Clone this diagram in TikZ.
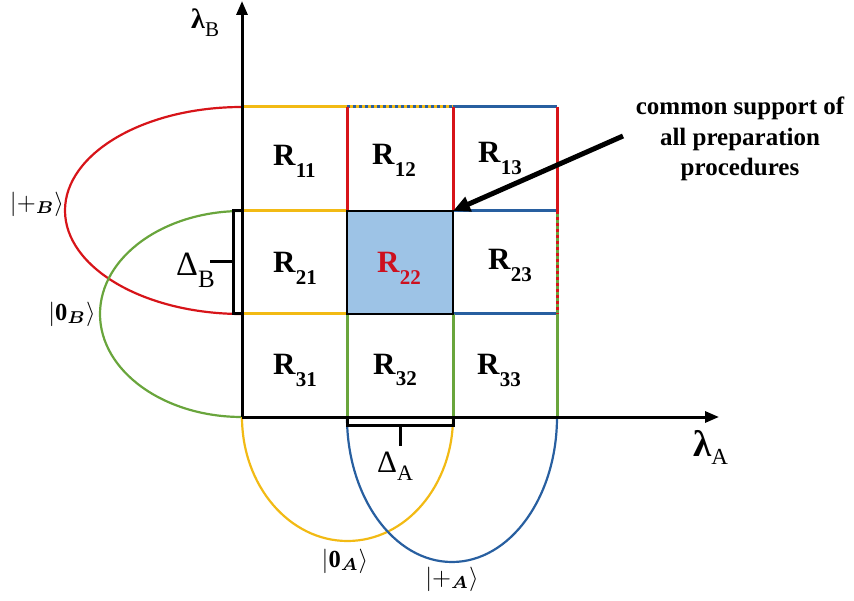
\documentclass[tikz,border=0pt]{standalone}
\usepackage{amsmath,bm}
\usepackage{fontspec}
\setmainfont{Liberation Serif}
\usetikzlibrary{arrows.meta}
\definecolor{yel}{RGB}{242,186,20}
\definecolor{redl}{RGB}{215,20,25}
\definecolor{blu}{RGB}{40,95,160}
\definecolor{grn}{RGB}{105,165,60}
\definecolor{cellfill}{RGB}{157,195,230}
\definecolor{redtxt}{RGB}{205,16,30}
\newcommand{\Rlab}[2][black]{\textcolor{#1}{\textbf{R}\raisebox{-12pt}{\fontsize{21}{21}\selectfont\textbf{#2}}}}
\begin{document}
\begin{tikzpicture}[x=1pt,y=-1pt,
  gl/.style={line width=3pt},
  ax/.style={line width=3pt,-{Triangle[length=14pt,width=11pt]}},
  ell/.style={line width=2.2pt},
  brk/.style={line width=3pt},
  rlab/.style={anchor=base west,inner sep=0pt,font=\fontsize{31}{31}\selectfont},
  ket/.style={inner sep=0pt,scale=2.45}]
\useasboundingbox (0,0) rectangle (854,601);
% grid coordinates
\coordinate (a0) at (242,107); \coordinate (b0) at (347,107); \coordinate (c0) at (453,107); \coordinate (d0) at (557,107);
\coordinate (a1) at (242,211); \coordinate (b1) at (347,211); \coordinate (c1) at (453,211); \coordinate (d1) at (557,211);
\coordinate (a2) at (242,314); \coordinate (b2) at (347,314); \coordinate (c2) at (453,314); \coordinate (d2) at (557,314);
\coordinate (a3) at (242,417); \coordinate (b3) at (347,417); \coordinate (c3) at (453,417); \coordinate (d3) at (557,417);
% R22 fill
\fill[cellfill] (b1) rectangle (c2);
% horizontal coloured lines
\draw[gl,yel] (a0) -- (b0);
\draw[gl,yel] (b0) -- (c0);
\draw[gl,blu,dash pattern=on 3pt off 3pt] (b0) -- (c0);
\draw[gl,blu] (c0) -- (d0);
\draw[gl,yel] (a1) -- (b1);
\draw[gl,blu] (c1) -- (d1);
\draw[gl,yel] (a2) -- (b2);
\draw[gl,blu] (c2) -- (d2);
% vertical coloured lines
\draw[gl,redl] (b0) -- (b1);
\draw[gl,redl] (c0) -- (c1);
\draw[gl,redl] (d0) -- (d1);
\draw[gl,grn] (d1) -- (d2);
\draw[gl,redl,dash pattern=on 3pt off 3pt] (d1) -- (d2);
\draw[gl,grn] (b2) -- (b3);
\draw[gl,grn] (c2) -- (c3);
\draw[gl,grn] (d2) -- (d3);
% R22 border
\draw[line width=2pt] (b1) rectangle (c2);
% ellipses
\draw[ell,redl] (a0) arc[start angle=90,end angle=270,x radius=177pt,y radius=103.5pt];
\draw[ell,grn] (a1) arc[start angle=90,end angle=270,x radius=142pt,y radius=103pt];
\draw[ell,yel] (a3) arc[start angle=180,end angle=360,x radius=105.5pt,y radius=124pt];
\draw[ell,blu] (b3) arc[start angle=180,end angle=360,x radius=105pt,y radius=145pt];
% axes
\coordinate (ytip) at (242,1);
\coordinate (xtip) at (719,417);
\draw[ax] (a3) -- (ytip);
\draw[ax] (a3) -- (xtip);
% brackets
\draw[brk] (a1) -- (233,211) -- (233,314) -- (a2);
\draw[brk] (233,262) -- (210,262);
\draw[brk] (b3) -- (347,425) -- (453,425) -- (c3);
\draw[brk] (400,425) -- (400,446);
% axis labels
\node[anchor=base west,inner sep=0pt] (lamB) at (191,29) {\fontsize{28}{28}\selectfont\textbf{λ}\raisebox{-8pt}{\fontsize{21}{21}\selectfont B}};
\node[anchor=base west,inner sep=0pt] (lamA) at (693,456) {\fontsize{37}{37}\selectfont\textbf{λ}\raisebox{-9pt}{\fontsize{23}{23}\selectfont A}};
\node[anchor=base west,inner sep=0pt] (delB) at (176,276) {\fontsize{34}{34}\selectfont Δ\raisebox{-12pt}{\fontsize{25}{25}\selectfont B}};
\node[anchor=base west,inner sep=0pt] (delA) at (377,472) {\fontsize{31}{31}\selectfont Δ\raisebox{-8pt}{\fontsize{22}{22}\selectfont A}};
% kets
\node[ket] (kpB) at (37,204) {$|{+}_{\bm{B}}\rangle$};
\node[ket] (k0B) at (72,314) {$|\mathbf{0}_{\bm{B}}\rangle$};
\node[ket] (k0A) at (345,561) {$|\mathbf{0}_{\bm{A}}\rangle$};
\node[ket] (kpA) at (452,579) {$|{+}_{\bm{A}}\rangle$};
% cell labels
\node[rlab] (R11) at (273,166) {\Rlab{11}};
\node[rlab] (R12) at (372,165) {\Rlab{12}};
\node[rlab] (R13) at (478,163) {\Rlab{13}};
\node[rlab] (R21) at (273,273) {\Rlab{21}};
\node[rlab] (R22) at (377,273) {\Rlab[redtxt]{22}};
\node[rlab] (R23) at (488,270) {\Rlab{23}};
\node[rlab] (R31) at (273,375) {\Rlab{31}};
\node[rlab] (R32) at (373,374) {\Rlab{32}};
\node[rlab] (R33) at (477,375) {\Rlab{33}};
% annotation
\node[align=center,inner sep=0pt,font=\bfseries\fontsize{25}{30.5}\selectfont] (txt) at (740,139) {common support of\\all preparation\\procedures};
\coordinate (arrS) at (623,136);
\draw[line width=5pt,-{Triangle[length=17pt,width=15pt]}] (arrS) -- (c1);
\end{tikzpicture}
\end{document}
